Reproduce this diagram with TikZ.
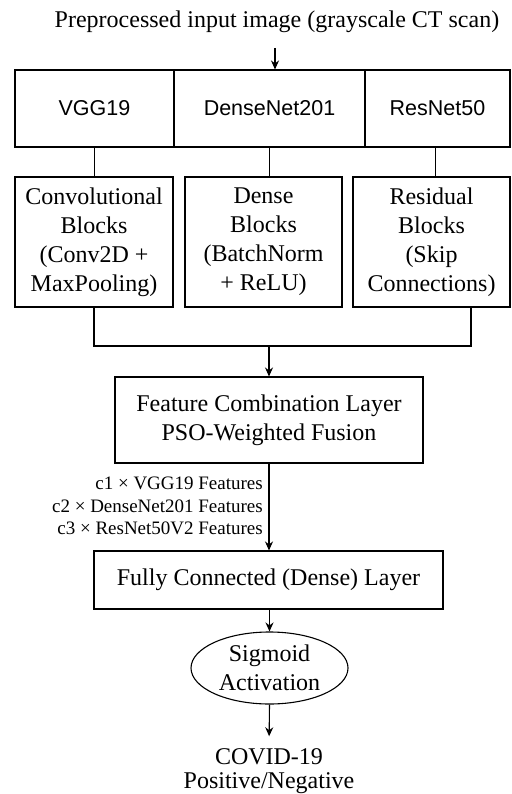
\documentclass[tikz,border=0pt]{standalone}
\usepackage{fontspec}
\setmainfont{Liberation Serif}
\setsansfont{Liberation Sans}
\usepackage{tikz}
\usetikzlibrary{arrows.meta,positioning,shapes.geometric}

\begin{document}
\begin{tikzpicture}[
    x=1pt, y=-1pt,
    box/.style={
        draw,
        line width=1.1pt,
        align=center,
        inner sep=0pt,
        font=\fontsize{24}{29}\selectfont
    },
    netbox/.style={box, minimum height=77pt, font=\sffamily\fontsize{21.5}{26}\selectfont},
    blockbox/.style={box, minimum width=157pt, minimum height=130pt},
    layerbox/.style={box},
    plain/.style={align=center, inner sep=0pt, font=\fontsize{24}{24}\selectfont},
    wlabel/.style={align=right, inner sep=0pt, font=\fontsize{19}{22.5}\selectfont},
    line/.style={line width=1.1pt},
    arrow/.style={line, -{Stealth[length=9pt,width=8pt]}}
]
\useasboundingbox (0,0) rectangle (511,794);

% input and the three backbones
\node[plain] (input) at (277,22) {Preprocessed input image (grayscale CT scan)};
\coordinate (intop) at (275,48);
\node[netbox, minimum width=159pt] (vgg) at (94.5,108.5) {VGG19};
\node[netbox, minimum width=191pt] (dense) at (269.5,108.5) {DenseNet201};
\node[netbox, minimum width=145pt] (res) at (437.5,108.5) {ResNet50};

% feature blocks
\node[blockbox, minimum width=158pt] (convb) at (94,242) {Convolutional\\Blocks\\(Conv2D +\\MaxPooling)};
\node[blockbox] (denseb) at (263.5,242) {Dense\\Blocks\\(BatchNorm\\+ ReLU)};
\node[blockbox] (resb) at (431.5,242) {Residual\\Blocks\\(Skip\\Connections)};

\coordinate (join) at (269,346);

% fusion and head
\node[layerbox, minimum width=308pt, minimum height=86pt] (fuse) at (269,420) {Feature Combination Layer\\PSO-Weighted Fusion};
\node[wlabel, anchor=east] (weights) at (263,506) {c1 × VGG19 Features\\c2 × DenseNet201 Features\\c3 × ResNet50V2 Features};
\node[layerbox, minimum width=349pt, minimum height=58pt] (fc) at (268.5,580) {Fully Connected (Dense) Layer};
\node[draw, line, ellipse, inner sep=0pt, minimum width=157pt, minimum height=72pt, align=center,
      font=\fontsize{24}{29}\selectfont] (sig) at (269.5,668) {Sigmoid\\Activation};
\node[plain] (out) at (269,771) {COVID-19\\Positive/Negative};

\draw[arrow] (intop) -- (intop |- dense.north);
\draw[line] (vgg.south) -- (vgg.south |- convb.north);
\draw[line] (dense.south) -- (dense.south |- denseb.north);
\draw[line] ([xshift=-2pt]res.south) -- ([xshift=-2pt]res.south |- resb.north);

\draw[line] (convb.south) |- (join) -| ([xshift=39.5pt]resb.south);
\draw[arrow] (join) -- (fuse.north);
\draw[arrow] (fuse.south) -- (fuse.south |- fc.north);
\draw[arrow] (fc.south -| sig.south) -- (sig.north);
\draw[arrow, shorten >=12pt] (sig.south) -- (out.north);
\end{tikzpicture}
\end{document}
